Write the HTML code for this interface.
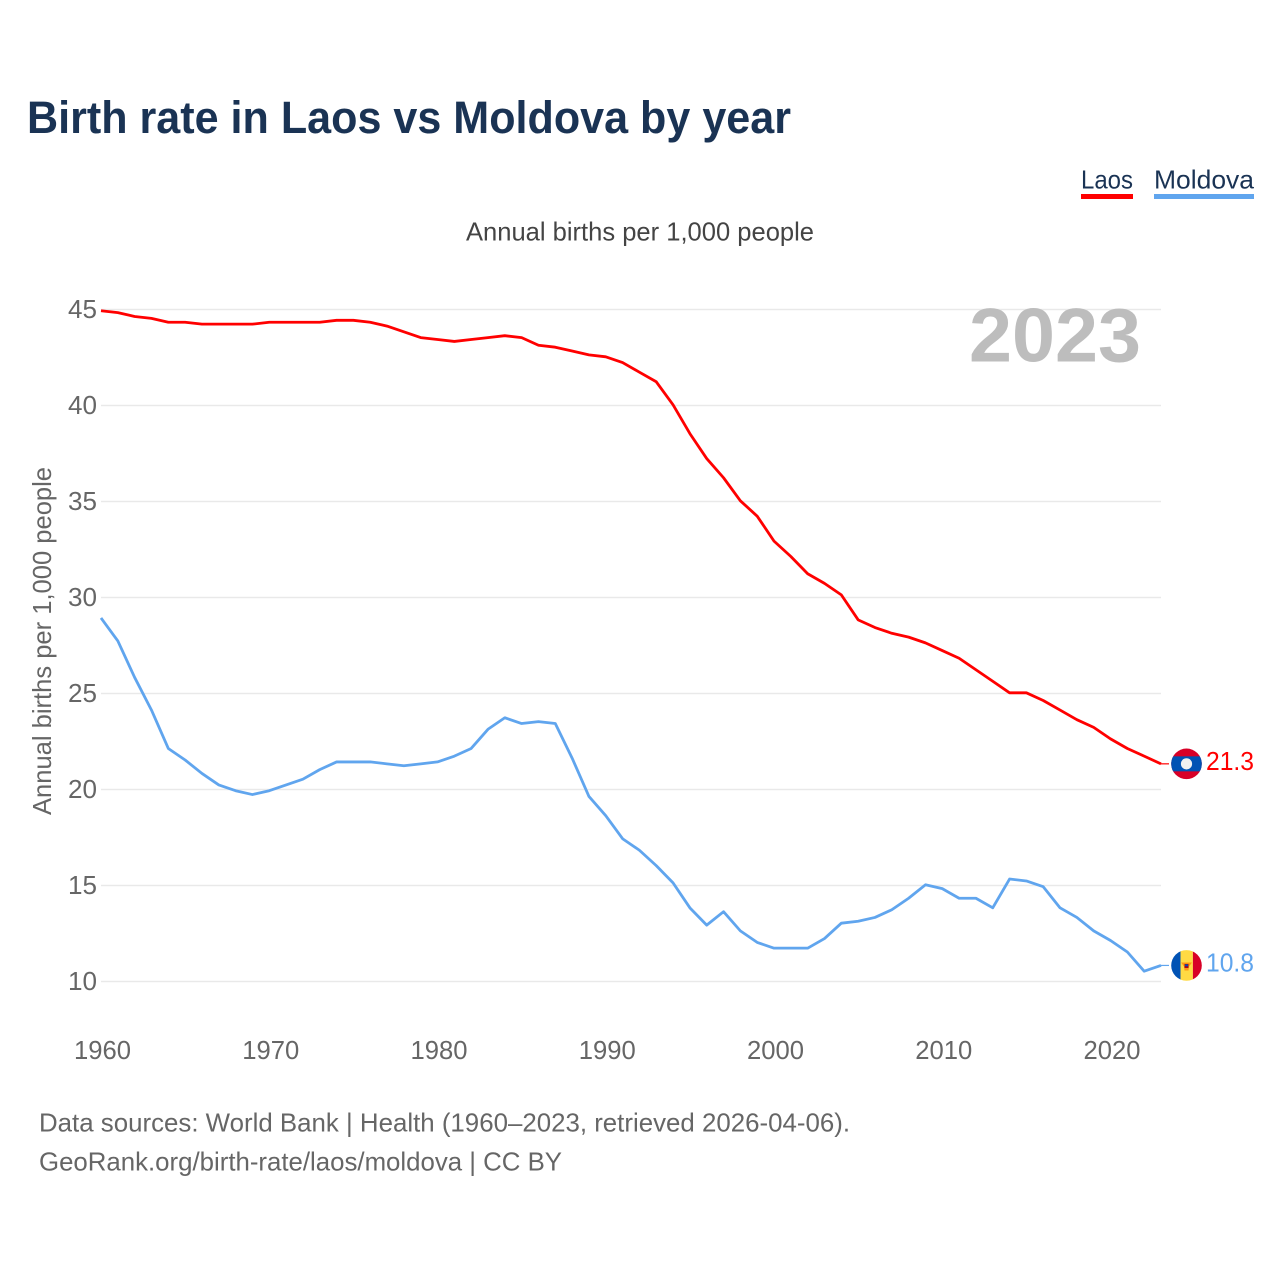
<!DOCTYPE html>
<html lang="en">
<head>
<meta charset="utf-8">
<title>Birth rate in Laos vs Moldova by year</title>
<style>
html,body{margin:0;padding:0;background:#fff;}
svg{display:block;font-family:"Liberation Sans",sans-serif;}
</style>
</head>
<body>
<svg id="chart" width="1280" height="1280" viewBox="0 0 1280 1280" xmlns="http://www.w3.org/2000/svg">
  <defs>
    <clipPath id="flag-clip"><circle cx="0" cy="0" r="15.3"></circle></clipPath>
  </defs>
  <rect x="0" y="0" width="1280" height="1280" fill="#ffffff"></rect>
  <text x="27" y="133" font-size="45" font-weight="700" fill="#1a3354" textLength="764" lengthAdjust="spacingAndGlyphs">Birth rate in Laos vs Moldova by year</text>

  <g>
    <text x="1081" y="188.5" font-size="26" fill="#1a3354" textLength="52" lengthAdjust="spacingAndGlyphs">Laos</text>
    <rect x="1081" y="194" width="52" height="5" fill="#ff0000"></rect>
  </g>
  <g>
    <text x="1154" y="188.5" font-size="26" fill="#1a3354" textLength="100" lengthAdjust="spacingAndGlyphs">Moldova</text>
    <rect x="1154" y="194" width="100" height="5" fill="#60a5ee"></rect>
  </g>

  <text x="466" y="240.5" font-size="26" fill="#444444" textLength="348" lengthAdjust="spacingAndGlyphs">Annual births per 1,000 people</text>
  <text transform="translate(51,815) rotate(-90)" x="0" y="0" font-size="26" fill="#666666" textLength="348" lengthAdjust="spacingAndGlyphs">Annual births per 1,000 people</text>

  <g id="grid"></g>
  <g id="y-ticks"></g>
  <g id="x-ticks"></g>

  <text x="969" y="361.5" font-size="76" font-weight="700" fill="#bdbdbd" textLength="172" lengthAdjust="spacingAndGlyphs">2023</text>

  <g id="series"></g>

  <g id="flag-laos">
    <g clip-path="url(#flag-clip)">
      <rect x="-16" y="-16" width="32" height="32" fill="#d80027"></rect>
      <rect x="-16" y="-7.5" width="32" height="15" fill="#0052b4"></rect>
      <circle cx="0" cy="0" r="5.6" fill="#f0f0f0"></circle>
    </g>
  </g>
  <g id="flag-moldova">
    <g clip-path="url(#flag-clip)">
      <rect x="-16" y="-16" width="10" height="32" fill="#0052b4"></rect>
      <rect x="-6" y="-16" width="12.4" height="32" fill="#ffda44"></rect>
      <rect x="6.4" y="-16" width="10" height="32" fill="#d80027"></rect>
      <path d="M-5.5 -3 L5.5 -3 L2.5 1 L2 5 L-2 5 L-2.5 1 Z" fill="#ff9811"></path>
      <rect x="-2" y="-1.5" width="4" height="4" fill="#a2001d"></rect>
      <rect x="-1.6" y="-1" width="3.2" height="1.8" fill="#0052b4"></rect>
    </g>
  </g>
  <g id="end-labels"></g>

  <text x="39" y="1131.5" font-size="26" fill="#666666" textLength="811" lengthAdjust="spacingAndGlyphs">Data sources: World Bank | Health (1960–2023, retrieved 2026-04-06).</text>
  <text x="39" y="1170.5" font-size="26" fill="#666666" textLength="523" lengthAdjust="spacingAndGlyphs">GeoRank.org/birth-rate/laos/moldova | CC BY</text>
</svg>
<script>
var firstYear = 1960;
var lastYear = 2023;
var yTickValues = [10, 15, 20, 25, 30, 35, 40, 45];
var xTickValues = [1960, 1970, 1980, 1990, 2000, 2010, 2020];
var laosValues = [44.9,44.8,44.6,44.5,44.3,44.3,44.2,44.2,44.2,44.2,44.3,44.3,44.3,44.3,44.4,44.4,44.3,44.1,43.8,43.5,43.4,43.3,43.4,43.5,43.6,43.5,43.1,43.0,42.8,42.6,42.5,42.2,41.7,41.2,40.0,38.5,37.2,36.2,35.0,34.2,32.9,32.1,31.2,30.7,30.1,28.8,28.4,28.1,27.9,27.6,27.2,26.8,26.2,25.6,25.0,25.0,24.6,24.1,23.6,23.2,22.6,22.1,21.7,21.3];
var moldovaValues = [28.9,27.7,25.8,24.1,22.1,21.5,20.8,20.2,19.9,19.7,19.9,20.2,20.5,21.0,21.4,21.4,21.4,21.3,21.2,21.3,21.4,21.7,22.1,23.1,23.7,23.4,23.5,23.4,21.6,19.6,18.6,17.4,16.8,16.0,15.1,13.8,12.9,13.6,12.6,12.0,11.7,11.7,11.7,12.2,13.0,13.1,13.3,13.7,14.3,15.0,14.8,14.3,14.3,13.8,15.3,15.2,14.9,13.8,13.3,12.6,12.1,11.5,10.5,10.8];

var NS = 'http://www.w3.org/2000/svg';
var plotLeft = 101, plotRight = 1161;
function xScale(year) { return plotLeft + (year - firstYear) * (plotRight - plotLeft) / (lastYear - firstYear); }
function yScale(v) { return 981.5 - (v - 10) * 19.2; }
function markY(v) { return yScale(v) - 0.7; }
function make(tag, parent, attrs) {
  var el = document.createElementNS(NS, tag);
  for (var k in attrs) el.setAttribute(k, attrs[k]);
  parent.appendChild(el);
  return el;
}
var grid = document.getElementById('grid');
var yTicks = document.getElementById('y-ticks');
var xTicks = document.getElementById('x-ticks');
var series = document.getElementById('series');
var endLabels = document.getElementById('end-labels');

yTickValues.forEach(function (v) {
  var line = make('line', grid, { x1: plotLeft, x2: plotRight, y1: yScale(v), y2: yScale(v), stroke: '#e9e9e9', 'stroke-width': 1.4 });
  
  
  var t = make('text', yTicks, { x: 97, y: yScale(v) + 8.5, 'text-anchor': 'end', 'font-size': 25.5, fill: '#666666', textLength: 29, lengthAdjust: 'spacingAndGlyphs' });
  t.textContent = String(v);
  
  
});

xTickValues.forEach(function (yr) {
  var t = make('text', xTicks, { x: xScale(yr) + 1.5, y: 1059, 'text-anchor': 'middle', 'font-size': 25.5, fill: '#666666', textLength: 57, lengthAdjust: 'spacingAndGlyphs' });
  t.textContent = String(yr);
  
  
});

function linePoints(values) {
  return values.map(function (v, i) { return xScale(firstYear + i).toFixed(2) + ',' + markY(v).toFixed(2); }).join(' ');
}

var laosLine = make('polyline', series, { points: linePoints(laosValues), fill: 'none', stroke: '#ff0000', 'stroke-width': 2.8, 'stroke-linejoin': 'round' });



var moldovaLine = make('polyline', series, { points: linePoints(moldovaValues), fill: 'none', stroke: '#60a5ee', 'stroke-width': 2.8, 'stroke-linejoin': 'round' });



var laosLast = laosValues[laosValues.length - 1];
var moldovaLast = moldovaValues[moldovaValues.length - 1];

var laosLink = make('line', series, { x1: plotRight, x2: 1169, y1: markY(laosLast), y2: markY(laosLast), stroke: '#ff0000', 'stroke-width': 1.2 });



var moldovaLink = make('line', series, { x1: plotRight, x2: 1169, y1: markY(moldovaLast), y2: markY(moldovaLast), stroke: '#60a5ee', 'stroke-width': 1.2 });



document.getElementById('flag-laos').setAttribute('transform', 'translate(1186.5,' + markY(laosLast) + ')');
document.getElementById('flag-moldova').setAttribute('transform', 'translate(1186.5,' + markY(moldovaLast) + ')');

var laosLabel = make('text', endLabels, { x: 1206, y: markY(laosLast) + 6, 'font-size': 25.5, fill: '#ff0000', textLength: 48, lengthAdjust: 'spacingAndGlyphs' });
laosLabel.textContent = laosLast.toFixed(1);



var moldovaLabel = make('text', endLabels, { x: 1206, y: markY(moldovaLast) + 6, 'font-size': 25.5, fill: '#60a5ee', textLength: 48, lengthAdjust: 'spacingAndGlyphs' });
moldovaLabel.textContent = moldovaLast.toFixed(1);


</script>
</body>
</html>
